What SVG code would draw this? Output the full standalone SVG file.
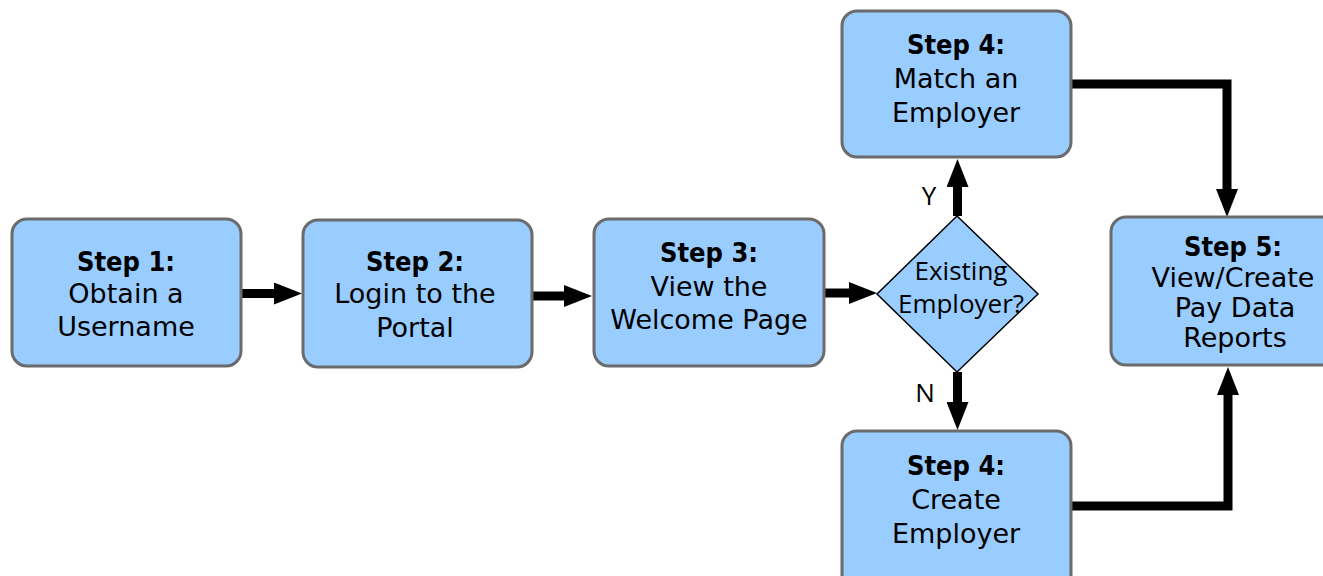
<svg xmlns="http://www.w3.org/2000/svg" width="1323" height="576" viewBox="0 0 1323 576">
<style>
.box{fill:#99ccff;stroke:#6b6b6b;stroke-width:3}
.dia{fill:#99ccff;stroke:#000;stroke-width:1.5}
.t{font-family:"DejaVu Sans",Verdana,sans-serif;font-size:27px;fill:#000;text-anchor:middle}
.b{font-family:"DejaVu Sans Condensed","DejaVu Sans",sans-serif;font-weight:bold;font-size:27px;fill:#000;text-anchor:middle}
.d{font-family:"Open Sans","DejaVu Sans",sans-serif;font-size:26px;fill:#000;text-anchor:middle}
.c{fill:none;stroke:#000;stroke-width:9;stroke-linecap:butt;stroke-linejoin:miter}
</style>
<defs>
<marker id="ah" markerUnits="userSpaceOnUse" markerWidth="28" markerHeight="22" refX="0" refY="11" orient="auto">
<path d="M0,0 L28,11 L0,22 z" fill="#000"/>
</marker>
</defs>
<rect width="1323" height="576" fill="#fff"/>
<g id="connectors">
<line class="c" x1="241" y1="293.5" x2="274" y2="293.5" marker-end="url(#ah)"/>
<line class="c" x1="532" y1="296" x2="564" y2="296" marker-end="url(#ah)"/>
<line class="c" x1="824" y1="293" x2="849" y2="293" marker-end="url(#ah)"/>
<line class="c" x1="957.5" y1="216" x2="957.5" y2="187" marker-end="url(#ah)"/>
<line class="c" x1="957.5" y1="372" x2="957.5" y2="402" marker-end="url(#ah)"/>
<polyline class="c" points="1071,84 1227,84 1227,189" marker-end="url(#ah)"/>
<polyline class="c" points="1071,506 1228,506 1228,395" marker-end="url(#ah)"/>
</g>
<g id="step1">
<rect class="box" x="12" y="219" width="229" height="147" rx="15"/>
<text class="b" x="126" y="271">Step 1:</text>
<text class="t" x="126" y="303">Obtain a</text>
<text class="t" x="126" y="336">Username</text>
</g>
<g id="step2">
<rect class="box" x="303" y="220" width="229" height="147" rx="15"/>
<text class="b" x="415" y="271">Step 2:</text>
<text class="t" x="415" y="303">Login to the</text>
<text class="t" x="415" y="337">Portal</text>
</g>
<g id="step3">
<rect class="box" x="594" y="219" width="230" height="147" rx="15"/>
<text class="b" x="709" y="262">Step 3:</text>
<text class="t" x="709" y="296">View the</text>
<text class="t" x="709" y="329">Welcome Page</text>
</g>
<g id="decision">
<polygon class="dia" points="957,216 1038,294 957,372 877,294"/>
<text class="d" x="961" y="280">Existing</text>
<text class="d" x="961" y="313">Employer?</text>
<text class="d" x="929" y="205">Y</text>
<text class="d" x="925" y="402">N</text>
</g>
<g id="step4match">
<rect class="box" x="842" y="11" width="229" height="146" rx="15"/>
<text class="b" x="956" y="54">Step 4:</text>
<text class="t" x="956" y="88">Match an</text>
<text class="t" x="956" y="122">Employer</text>
</g>
<g id="step4create">
<rect class="box" x="842" y="431" width="229" height="160" rx="15"/>
<text class="b" x="956" y="475">Step 4:</text>
<text class="t" x="956" y="509">Create</text>
<text class="t" x="956" y="543">Employer</text>
</g>
<g id="step5">
<rect class="box" x="1111" y="217" width="240" height="148" rx="15"/>
<text class="b" x="1233" y="256">Step 5:</text>
<text class="t" x="1233" y="287">View/Create</text>
<text class="t" x="1235" y="317">Pay Data</text>
<text class="t" x="1235" y="347">Reports</text>
</g>
</svg>
